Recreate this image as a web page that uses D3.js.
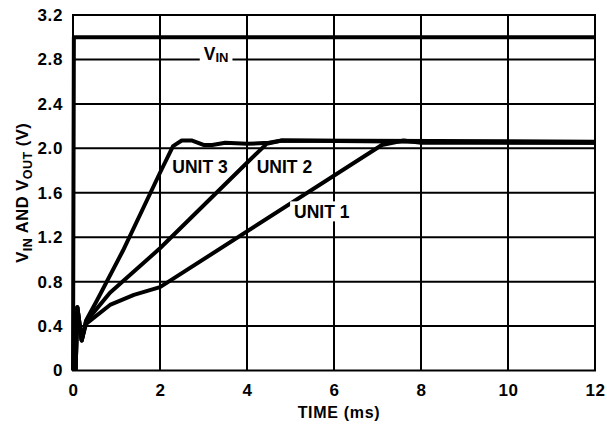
<!DOCTYPE html>
<html lang="en">
  <head>
    <meta charset="utf-8">
    <title>VIN and VOUT vs Time</title>
    <script src="https://d3js.org/d3.v7.min.js"></script>
    <style type="text/css">
      body { margin: 0; background: #fff; }
      text { font-family: "Liberation Sans", Arial, sans-serif; font-weight: bold; fill: #000; }
    </style>
  </head>
  <body>
    <div id="chart"></div>
    <script type="text/javascript">
      // tick labels
      var xTicks = [0, 2, 4, 6, 8, 10, 12];
      var yTicks = [0, 0.4, 0.8, 1.2, 1.6, 2.0, 2.4, 2.8, 3.2];
      var yTickLabels = ["0", "0.4", "0.8", "1.2", "1.6", "2.0", "2.4", "2.8", "3.2"];

      // input step
      var vinTime = [0, 0.02, 12];
      var vinVolts = [0, 3.0, 3.0];

      // outputs (ms, V)
      var unit1Time = [0.06, 0.1, 0.2, 0.3, 0.85, 1.4, 2.0, 7.1, 7.6, 8.0, 12];
      var unit1Volts = [0, 0.57, 0.27, 0.42, 0.59, 0.68, 0.75, 2.03, 2.07, 2.05, 2.05];
      var unit2Time = [0.06, 0.1, 0.2, 0.3, 0.85, 2.0, 4.0, 4.45, 4.8, 8.0, 12];
      var unit2Volts = [0, 0.57, 0.27, 0.44, 0.70, 1.10, 1.87, 2.04, 2.07, 2.06, 2.05];
      var unit3Time = [0.06, 0.1, 0.2, 0.3, 0.55, 1.15, 2.0, 2.3, 2.5, 2.74, 3.0, 3.2, 3.5, 4.0, 4.5, 4.8, 12];
      var unit3Volts = [0, 0.57, 0.27, 0.45, 0.63, 1.08, 1.78, 2.02, 2.07, 2.07, 2.03, 2.03, 2.05, 2.04, 2.05, 2.07, 2.06];

      var width = 607, height = 429;
      var margin = {top: 15, right: 12, bottom: 58.5, left: 73};
      var w = width - margin.left - margin.right;
      var h = height - margin.top - margin.bottom;

      var svg = d3.select("#chart").append("svg")
        .attr("width", width).attr("height", height);
      var g = svg.append("g").attr("transform", "translate(" + margin.left + "," + margin.top + ")");

      var x = d3.scaleLinear().domain([0, 12]).range([0, w]);
      var y = d3.scaleLinear().domain([0, 3.2]).range([h, 0]);

      // grid
      g.selectAll(".vgrid").data(xTicks.slice(1, -1)).enter().append("line")
        .attr("x1", d => x(d)).attr("x2", d => x(d))
        .attr("y1", 0).attr("y2", h)
        .attr("stroke", "#000").attr("stroke-width", 2);
      g.selectAll(".hgrid").data(yTicks.slice(1, -1)).enter().append("line")
        .attr("x1", 0).attr("x2", w)
        .attr("y1", d => y(d)).attr("y2", d => y(d))
        .attr("stroke", "#000").attr("stroke-width", 2);
      g.append("rect").attr("width", w).attr("height", h)
        .attr("fill", "none").attr("stroke", "#000").attr("stroke-width", 2);

      // axes (labels only)
      var xAxis = g.append("g").attr("transform", "translate(0," + h + ")")
        .call(d3.axisBottom(x).tickValues(xTicks).tickSize(0).tickPadding(13));
      var yAxis = g.append("g")
        .call(d3.axisLeft(y).tickValues(yTicks).tickSize(0).tickPadding(10)
          .tickFormat((d, i) => yTickLabels[i]));
      [xAxis, yAxis].forEach(a => {
        a.select(".domain").remove();
        a.selectAll("text").style("font-size", "17px").style("letter-spacing", "0.6px")
          .style("font-family", "'Liberation Sans', Arial, sans-serif").style("font-weight", "bold");
      });

      var line = d3.line().x(d => x(d[0])).y(d => y(d[1]));
      function pts(t, v) { return t.map((d, i) => [d, v[i]]); }

      [[unit1Time, unit1Volts], [unit2Time, unit2Volts], [unit3Time, unit3Volts], [vinTime, vinVolts]]
        .forEach(s => {
          g.append("path").datum(pts(s[0], s[1])).attr("d", line)
            .attr("fill", "none").attr("stroke", "#000").attr("stroke-width", 4)
            .attr("stroke-linejoin", "round");
        });

      // labels
      var bgLayer = g.append("g");
      var textLayer = g.append("g");
      function label(tx, ty, parts, bg) {
        var t = textLayer.append("text").attr("x", x(tx)).attr("y", y(ty))
          .attr("text-anchor", "middle").attr("dominant-baseline", "middle")
          .style("font-size", "17.5px");
        parts.forEach(p => {
          var ts = t.append("tspan").text(p[0]);
          if (p[1]) ts.style("font-size", "13px").attr("dy", 4);
        });
        if (bg) {
          var b = t.node().getBBox();
          bgLayer.append("rect").attr("x", b.x - 4).attr("y", b.y)
            .attr("width", b.width + 8).attr("height", b.height).attr("fill", "#fff");
        }
        return t;
      }
      label(3.29, 2.84, [["V"], ["IN", true]], true);
      label(2.92, 1.82, [["UNIT 3"]], false);
      label(4.86, 1.82, [["UNIT 2"]], false);
      label(5.72, 1.42, [["UNIT 1"]], true);

      // axis titles
      svg.append("text").attr("x", margin.left + w / 2 + 5).attr("y", 418)
        .attr("text-anchor", "middle").style("font-size", "16px").style("letter-spacing", "0.7px")
        .text("TIME (ms)");
      var yt = svg.append("text").attr("transform", "translate(28," + (margin.top + h / 2) + ") rotate(-90)")
        .attr("text-anchor", "middle").style("font-size", "16.5px").style("letter-spacing", "0.5px");
      yt.append("tspan").text("V");
      yt.append("tspan").text("IN").style("font-size", "12.5px").attr("dy", 4);
      yt.append("tspan").text(" AND V").attr("dy", -4);
      yt.append("tspan").text("OUT").style("font-size", "12.5px").attr("dy", 4);
      yt.append("tspan").text(" (V)").attr("dy", -4);
    </script>
  </body>
</html>
